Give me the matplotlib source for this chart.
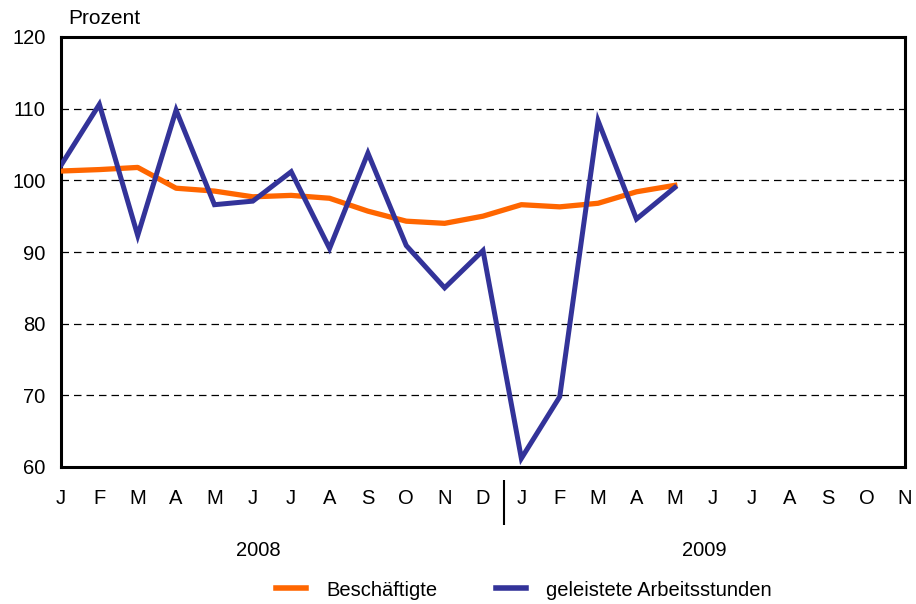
import matplotlib
matplotlib.use("Agg")
import matplotlib.pyplot as plt
from matplotlib.lines import Line2D

plt.rcParams['font.family'] = ['Liberation Sans', 'DejaVu Sans']

months = ["J", "F", "M", "A", "M", "J", "J", "A", "S", "O", "N", "D",
          "J", "F", "M", "A", "M", "J", "J", "A", "S", "O", "N"]
years = ["2008", "2009"]

beschaeftigte = [101.3, 101.5, 101.8, 98.9, 98.5, 97.7, 97.9, 97.5, 95.7, 94.3, 94.0, 95.0,
                 96.6, 96.3, 96.8, 98.4, 99.3]
arbeitsstunden = [102.1, 110.6, 92.3, 109.8, 96.6, 97.1, 101.2, 90.5, 103.8, 90.9, 85.0, 90.2,
                  61.2, 69.8, 108.3, 94.6, 99.0]

orange = "#FF6600"
blue = "#333399"
fs = 14.5

fig = plt.figure(figsize=(9.16, 6.04), dpi=100)
ax = fig.add_axes([61 / 916, 1 - 467 / 604, 844 / 916, 430 / 604])

ax.plot(range(len(beschaeftigte)), beschaeftigte, color=orange, lw=3.8, solid_joinstyle='round', zorder=3)
ax.plot(range(len(arbeitsstunden)), arbeitsstunden, color=blue, lw=3.6, solid_joinstyle='miter', zorder=4)

ax.set_xlim(0, len(months) - 1)
ax.set_ylim(60, 120)
ax.set_yticks(range(60, 121, 10))
ax.set_xticks(range(len(months)))
ax.set_xticklabels(months)
ax.tick_params(axis='both', length=0, labelsize=fs)
ax.tick_params(axis='y', pad=11)
ax.tick_params(axis='x', pad=16)

for y in range(70, 120, 10):
    ax.axhline(y, color='black', lw=0.9, ls=(0, (6, 4)), zorder=1)

for s in ax.spines.values():
    s.set_linewidth(2.2)
    s.set_color('black')

# year separator below the axis
ax.vlines(11.55, -0.03, -0.135, transform=ax.get_xaxis_transform(), color='black', lw=1.5, clip_on=False)

fig.text(68 / 916, 1 - 18 / 604, "Prozent", fontsize=15, ha='left', va='center')
fig.text(258 / 916, 1 - 550 / 604, years[0], fontsize=fs, ha='center', va='center')
fig.text(704 / 916, 1 - 550 / 604, years[1], fontsize=fs, ha='center', va='center')

handles = [Line2D([], [], color=orange, lw=4), Line2D([], [], color=blue, lw=4)]
fig.legend(handles, ["Beschäftigte", "geleistete Arbeitsstunden"], loc='center left',
           bbox_to_anchor=(276 / 916, 1 - 590 / 604), ncol=2, frameon=False, fontsize=fs,
           borderpad=0, borderaxespad=0, handlelength=1.5, handletextpad=1.0, columnspacing=2.9)

fig.savefig("out.png", dpi=100)
